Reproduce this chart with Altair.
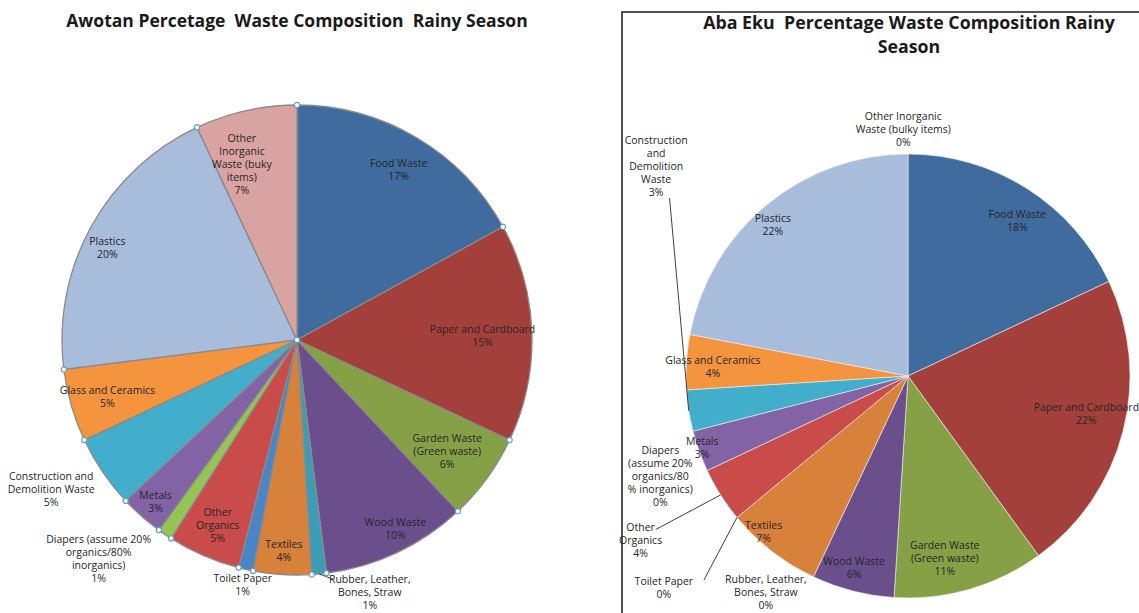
import math
import altair as alt
import pandas as pd

# ---------------- data ----------------
categories = [
    "Food Waste", "Paper and Cardboard", "Garden Waste (Green waste)", "Wood Waste",
    "Rubber, Leather, Bones, Straw", "Textiles", "Toilet Paper", "Other Organics",
    "Diapers (assume 20% organics/80% inorganics)", "Metals",
    "Construction and Demolition Waste", "Glass and Ceramics", "Plastics",
    "Other Inorganic Waste (bulky items)",
]

awotan_pct = [17, 15, 6, 10, 1, 4, 1, 5, 1, 3, 5, 5, 20, 7]
abaeku_pct = [18, 22, 11, 6, 0, 7, 0, 4, 0, 3, 3, 4, 22, 0]

awotan_names = [
    "Food Waste", "Paper and Cardboard", "Garden Waste\n(Green waste)", "Wood Waste",
    "Rubber, Leather,\nBones, Straw", "Textiles", "Toilet Paper", "Other\nOrganics",
    "Diapers (assume 20%\norganics/80%\ninorganics)", "Metals",
    "Construction and\nDemolition Waste", "Glass and Ceramics", "Plastics",
    "Other\nInorganic\nWaste (buky\nitems)",
]
abaeku_names = [
    "Food Waste", "Paper and Cardboard", "Garden Waste\n(Green waste)", "Wood Waste",
    "Rubber, Leather,\nBones, Straw", "Textiles", "Toilet Paper", "Other\nOrganics",
    "Diapers\n(assume 20%\norganics/80\n% inorganics)", "Metals",
    "Construction\nand\nDemolition\nWaste", "Glass and Ceramics", "Plastics",
    "Other Inorganic\nWaste (bulky items)",
]

slice_colors = [
    "#3f6b9e", "#a3403c", "#85a045", "#6b4f8d", "#3a9db5", "#d8813a", "#4a85c5",
    "#c94c4a", "#95c455", "#8163a6", "#42aecb", "#f4943f", "#a8bcdc", "#d9a3a2",
]

title_left = "Awotan Percetage \u00a0Waste Composition \u00a0Rainy Season"
title_right = "Aba Eku \u00a0Percentage Waste Composition Rainy\nSeason"

# ---------------- layout (positions / styles) ----------------
W, H = 1139, 613
FONT = "Open Sans"
LABEL_SIZE = 10.5
LH = 13
LABEL_DY = 2.5
LEFT = dict(
    cx=297, cy=340, r=235, stroke="#8a8a8a", sw=1.3, handles=True,
    label_r=[0.85, 0.79, 0.79, 0.90, 1.11, 0.89, 1.06, 0.85, 1.25, 0.91, 1.22, 0.84, 0.90, 0.79],
    nudge=[0, 0, 0, -0.7, -3.0, 0, 0, 0, 2.3, 0, 0.9, 0, -0.7, -1.3],
    leaders={"Rubber, Leather, Bones, Straw": (47.6, 1.03)},
)
RIGHT = dict(
    cx=908, cy=376, r=222, stroke="#f2f2f2", sw=0.6, handles=False,
    label_r=[0.86, 0.82, 0.83, 0.89, 1.16, 0.95, 1.45, 1.41, 1.20, 0.98, 1.48, 0.88, 0.92, 1.12],
    nudge=[0.7, -0.8, 1.3, 0.4, 2.3, 1.5, -0.3, 0.3, 1.0, 0.25, 13.6, -0.1, -0.5, -0.3],
    leaders={
        "Construction and Demolition Waste": (85.2, 1.34),
        "Other Organics": (66.3, 1.33),
        "Toilet Paper": (62.5, 1.30),
    },
)

theta_scale = alt.Scale(domain=[0, 100], range=[0, 2 * math.pi])


def pie_layers(values, names, L):
    df = pd.DataFrame({
        "cat": categories, "value": values, "name": names, "color": slice_colors,
    })
    df["end"] = df["value"].cumsum()
    df["start"] = df["end"] - df["value"]
    df["nudge"] = L["nudge"]
    df["lab_f"] = L["label_r"]
    df["label"] = df["name"] + "\n" + df["value"].astype(str) + "%"
    df["nlines"] = df["label"].str.count("\n") + 1
    cx, cy, r = L["cx"], L["cy"], L["r"]
    base = alt.Chart(df)

    arcs = base.transform_filter("datum.value > 0").mark_arc(
        outerRadius=r, stroke=L["stroke"], strokeWidth=L["sw"]
    ).encode(
        x=alt.value(cx), y=alt.value(cy),
        theta=alt.Theta("start:Q", scale=theta_scale), theta2="end:Q",
        color=alt.Color("color:N", scale=None),
    )
    texts = base.transform_calculate(
        la=f"(datum.start + datum.value / 2 + datum.nudge) / 100 * 2 * PI",
    ).transform_calculate(
        tx=f"{cx} + {r} * datum.lab_f * sin(datum.la)",
        ty=f"{cy} - {r} * datum.lab_f * cos(datum.la) - (datum.nlines - 1) * {LH} / 2 + {LABEL_DY}",
    ).mark_text(
        font=FONT, fontSize=LABEL_SIZE, lineBreak="\n", lineHeight=LH,
        align="center", baseline="middle", color="#262626",
    ).encode(
        x=alt.X("tx:Q", scale=None, axis=None),
        y=alt.Y("ty:Q", scale=None, axis=None),
        text="label:N",
    )
    layers = [arcs, texts]

    # leader lines
    lead = df[df["cat"].isin(list(L["leaders"].keys()))].copy()
    if len(lead):
        lead["end_a"] = lead["cat"].map(lambda c: L["leaders"][c][0])
        lead["end_f"] = lead["cat"].map(lambda c: L["leaders"][c][1])
        rules = alt.Chart(lead).transform_calculate(
            x1=f"{cx} + {r} * sin((datum.start + datum.value / 2) / 100 * 2 * PI)",
            y1=f"{cy} - {r} * cos((datum.start + datum.value / 2) / 100 * 2 * PI)",
            x2=f"{cx} + {r} * datum.end_f * sin(datum.end_a / 100 * 2 * PI)",
            y2=f"{cy} - {r} * datum.end_f * cos(datum.end_a / 100 * 2 * PI)",
        ).mark_rule(color="#404040", strokeWidth=1).encode(
            x=alt.X("x1:Q", scale=None, axis=None),
            y=alt.Y("y1:Q", scale=None, axis=None),
            x2="x2:Q", y2="y2:Q",
        )
        layers.append(rules)

    # selection handles on the rim (left chart)
    if L["handles"]:
        hdf = pd.DataFrame({"b": list(df["start"]), "rr": [r] * len(df)})
        hdf = pd.concat([hdf, pd.DataFrame({"b": [0], "rr": [0]})], ignore_index=True)
        handles = alt.Chart(hdf).transform_calculate(
            hx=f"{cx} + datum.rr * sin(datum.b / 100 * 2 * PI)",
            hy=f"{cy} - datum.rr * cos(datum.b / 100 * 2 * PI)",
        ).mark_point(shape="circle", filled=True, fill="white", stroke="#5a9fc8",
                     strokeWidth=1.2, size=28, opacity=1).encode(
            x=alt.X("hx:Q", scale=None, axis=None),
            y=alt.Y("hy:Q", scale=None, axis=None),
        )
        layers.append(handles)
    return layers


left_layers = pie_layers(awotan_pct, awotan_names, LEFT)
right_layers = pie_layers(abaeku_pct, abaeku_names, RIGHT)

frame = alt.Chart(pd.DataFrame({"k": [0]})).mark_rect(
    fillOpacity=0, stroke="#1a1a1a", strokeWidth=1.5
).encode(x=alt.value(622), x2=alt.value(1170), y=alt.value(12), y2=alt.value(660))

titles = alt.Chart(pd.DataFrame({
    "t": [title_left, title_right], "tx": [297, 909], "ty": [22, 24], "fs": [17.5, 17.8],
})).mark_text(
    font=FONT, fontWeight="bold", lineBreak="\n", lineHeight=24,
    align="center", baseline="middle", color="#1a1a1a",
).encode(
    x=alt.X("tx:Q", scale=None, axis=None),
    y=alt.Y("ty:Q", scale=None, axis=None),
    size=alt.Size("fs:Q", scale=None),
    text="t:N",
)

chart = alt.layer(
    frame, *left_layers, *right_layers, titles
).properties(
    width=W, height=H, autosize="none", padding=0, background="white"
).configure_view(stroke=None)

chart.save("out.html", embed_options={"renderer": "svg", "actions": False})
